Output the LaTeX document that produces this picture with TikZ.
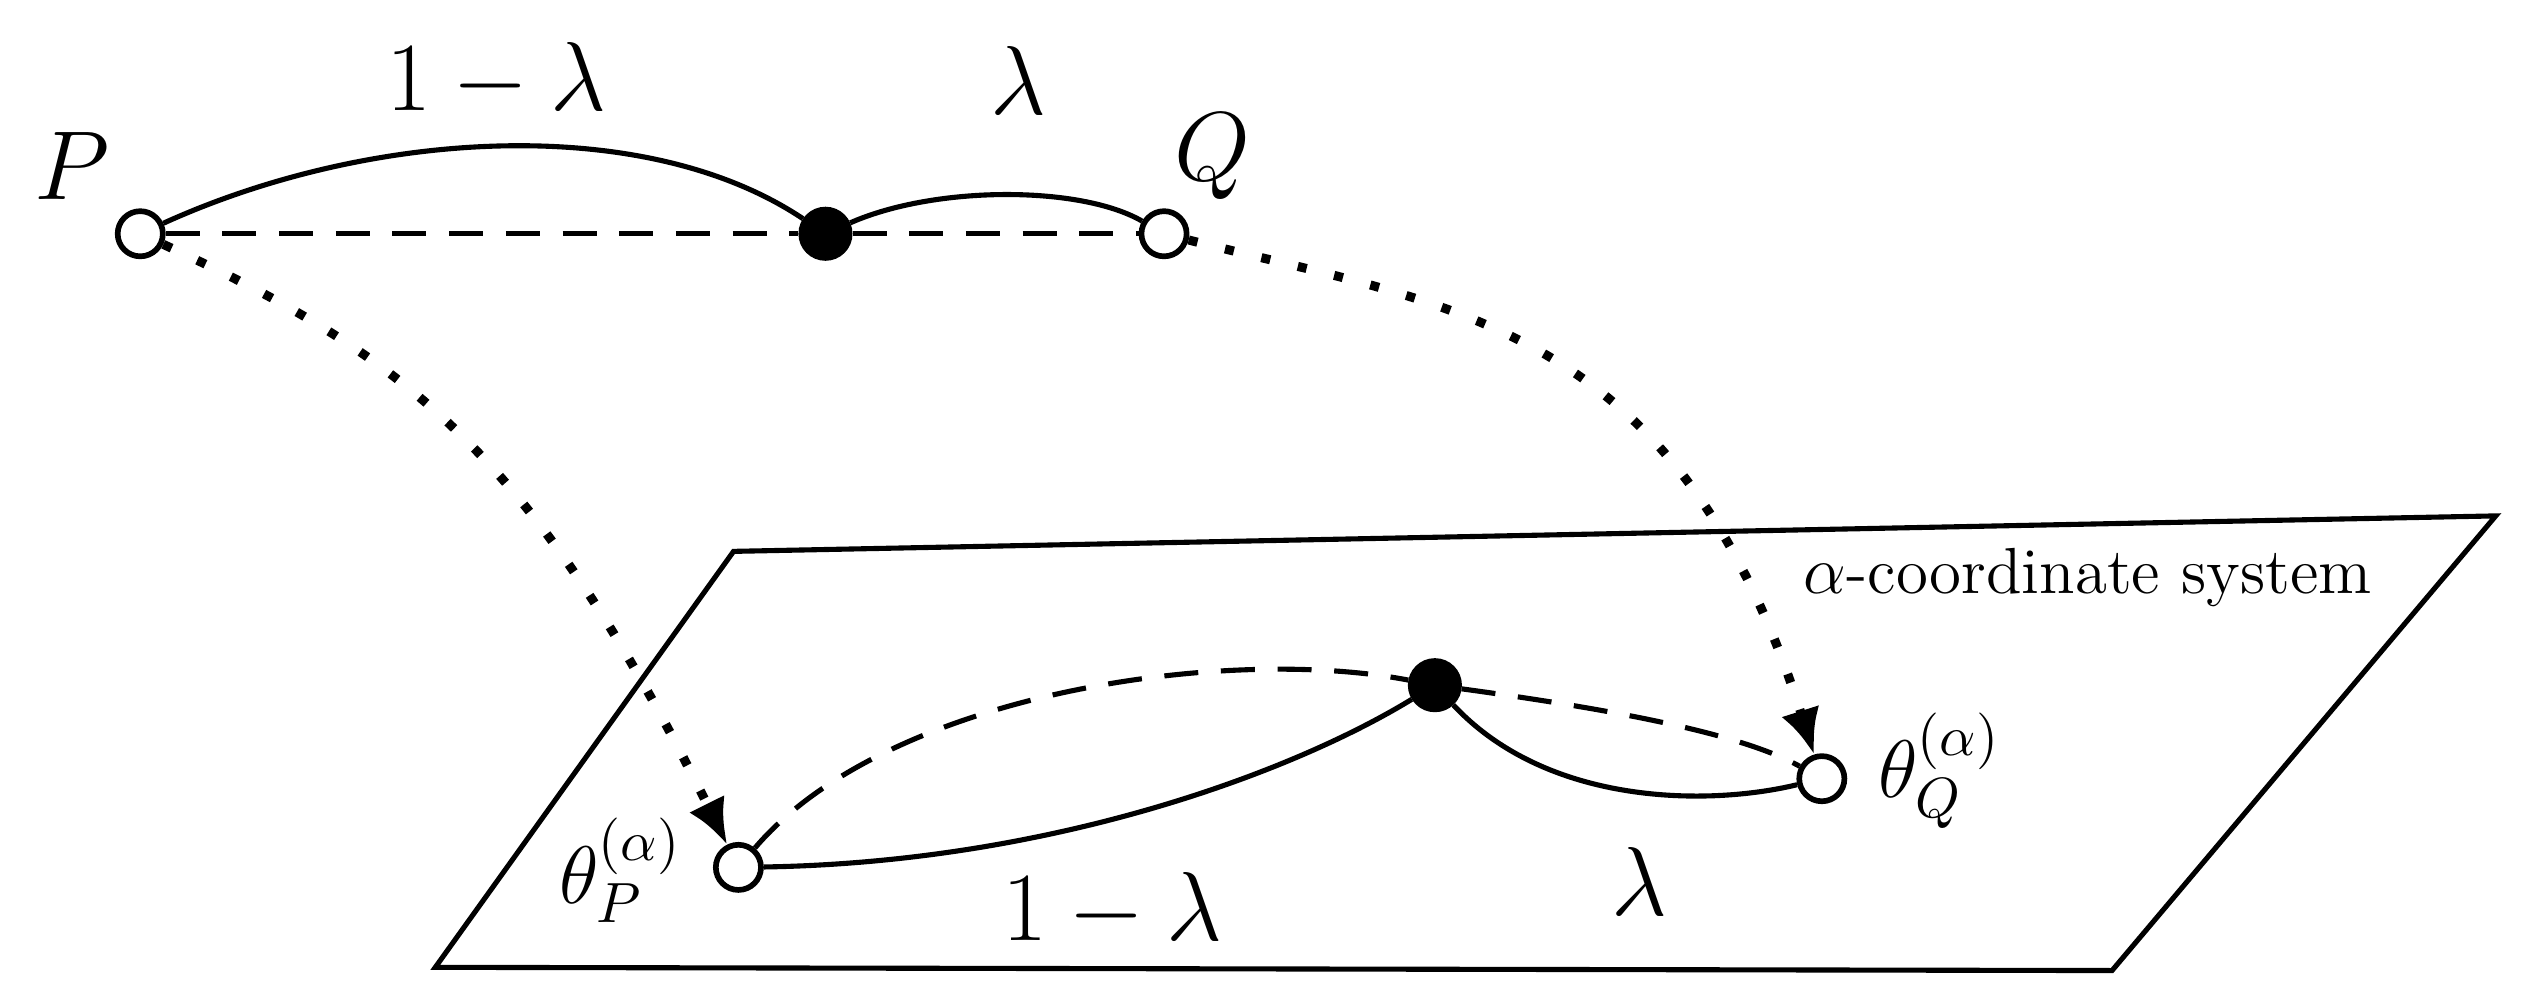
\documentclass[tikz,border=0pt]{standalone}
\usetikzlibrary{arrows.meta}
\begin{document}
\begin{tikzpicture}[x=0.01cm,y=-0.01cm,
  oc/.style={circle,draw,line width=1pt,fill=white,minimum size=0.28cm,inner sep=0pt},
  fc/.style={circle,draw,line width=1pt,fill=black,minimum size=0.3cm,inner sep=0pt},
  big/.style={font=\fontsize{19}{22}\selectfont},
  mid/.style={font=\fontsize{14}{16}\selectfont},
  ln/.style={line width=0.9pt},
  dl/.style={line width=0.9pt,dash pattern=on 6pt off 4pt},
  dt/.style={line width=1.6pt,dash pattern=on 1.6pt off 5pt,-{Latex[length=8pt,width=7pt]}}]
\useasboundingbox (0,0) rectangle (1568,625);
\draw[ln] (455,342) -- (1548,320) -- (1310,602) -- (270,600) -- cycle;
\node[oc] (P) at (87,145) {};
\node[fc] (M) at (512,145) {};
\node[oc] (Q) at (722,145) {};
\node[oc] (tP) at (458,538) {};
\node[fc] (tM) at (890,425) {};
\node[oc] (tQ) at (1130,483) {};
\draw[dl] (P) -- (M) -- (Q);
\draw[ln] (P) .. controls (230,80) and (400,70) .. (M);
\draw[ln] (M) .. controls (580,115) and (670,115) .. (Q);
\draw[dt] (P) .. controls (250,220) and (330,280) .. (tP);
\draw[dt] (Q) .. controls (900,190) and (1040,200) .. (tQ);
\draw[ln] (tP) .. controls (650,535) and (800,480) .. (tM);
\draw[dl] (tP) .. controls (550,430) and (760,400) .. (tM);
\draw[ln] (tM) .. controls (960,500) and (1060,500) .. (tQ);
\draw[dl] (tM) .. controls (1000,440) and (1080,455) .. (tQ);
\node[big] (l1) at (308,50) {$1-\lambda$};
\node[big] (l2) at (632,50) {$\lambda$};
\node[big] (lP) at (45,103) {$P$};
\node[big] (lQ) at (752,97) {$Q$};
\node[big] (l3) at (690,565) {$1-\lambda$};
\node[big] (l4) at (1017,547) {$\lambda$};
\node[mid] (ltP) at (385,540) {$\theta_P^{(\alpha)}$};
\node[mid] (ltQ) at (1203,478) {$\theta_Q^{(\alpha)}$};
\node[font=\fontsize{11.5}{13}\selectfont] (sys) at (1295,358) {$\alpha$-coordinate system};
\end{tikzpicture}
\end{document}
